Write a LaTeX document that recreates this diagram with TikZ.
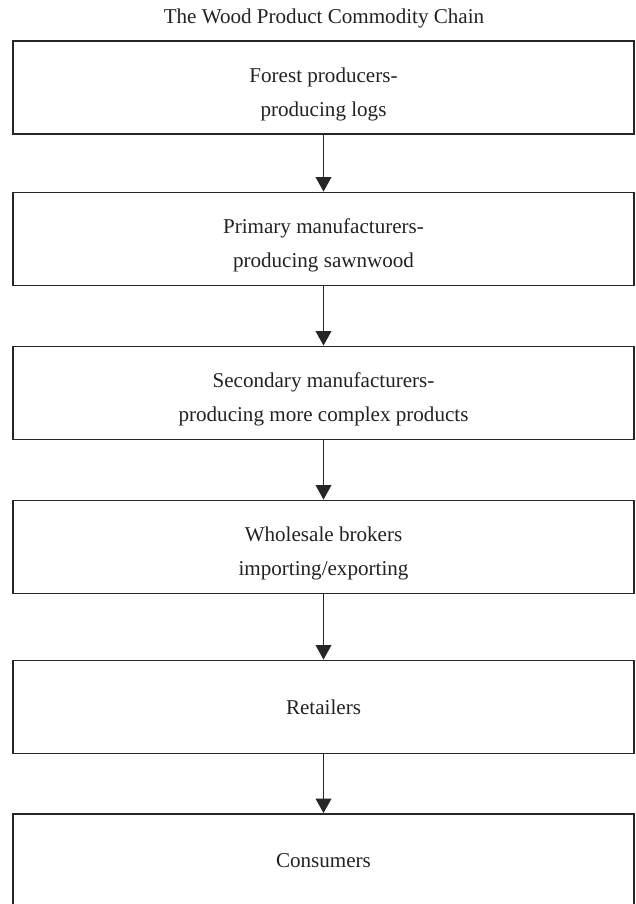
\documentclass[tikz,border=0pt]{standalone}
\usepackage{fontspec}
\setmainfont{Liberation Serif}
\usetikzlibrary{arrows.meta}
\definecolor{chainline}{HTML}{262626}
\definecolor{chaintext}{HTML}{222222}

\begin{document}
\begin{tikzpicture}[
  stage/.style={draw=chainline, line width=1pt, minimum width=12.42cm, minimum height=1.86cm,
    inner sep=0pt, align=center, text=chaintext, font=\fontsize{12}{19.5}\selectfont},
  twoline/.style={stage, text height=35.5pt},
  flow/.style={draw=chainline, line width=1.1pt, -{Triangle[length=0.29cm, width=0.31cm]}}
]
  \useasboundingbox (0,0) rectangle (12.7,-18.08);
  % Titre
  \node[anchor=base, text=chaintext, font=\fontsize{12}{14}\selectfont] (title) at (6.48,-0.467) {The Wood Product Commodity Chain};
  % Maillons de la chaine
  \node[twoline] (forest) at (6.47,-1.75) {Forest producers-\\producing logs};
  \node[twoline] (primary) at (6.47,-4.78) {Primary manufacturers-\\producing sawnwood};
  \node[twoline] (secondary) at (6.47,-7.86) {Secondary manufacturers-\\producing more complex products};
  \node[twoline] (wholesale) at (6.47,-10.94) {Wholesale brokers\\importing/exporting};
  \node[stage] (retail) at (6.47,-14.14) {Retailers};
  \node[stage] (consumer) at (6.47,-17.21) {Consumers};
  % Fleches
  \draw[flow] (forest) -- (primary);
  \draw[flow] (primary) -- (secondary);
  \draw[flow] (secondary) -- (wholesale);
  \draw[flow] (wholesale) -- (retail);
  \draw[flow] (retail) -- (consumer);
\end{tikzpicture}
\end{document}
